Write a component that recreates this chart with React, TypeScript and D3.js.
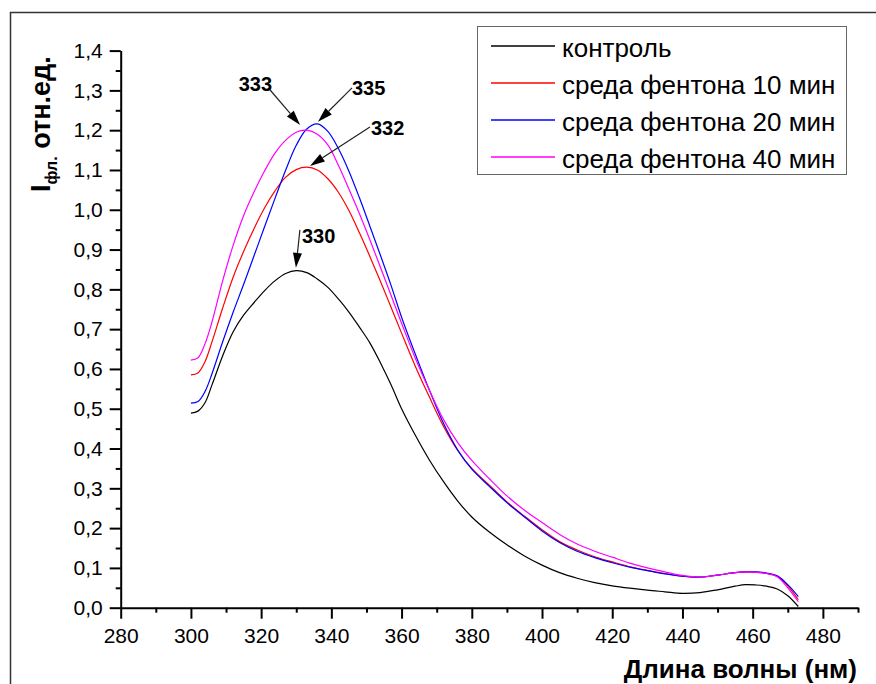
import { useEffect, useRef } from 'react';
import * as d3 from 'd3';

// wavelength grid (nm)
const wavelengths = [300, 302, 304, 306, 309, 312, 315, 318, 321, 324, 327, 330, 333, 336, 339, 342, 345, 348, 351, 354, 357, 360, 364, 368, 372, 376, 380, 385, 390, 395, 400, 405, 410, 415, 420, 425, 430, 435, 440, 445, 450, 455, 458, 461, 464, 467, 470, 473];

const control = [0.489, 0.494, 0.515, 0.56, 0.632, 0.693, 0.735, 0.767, 0.797, 0.822, 0.84, 0.847, 0.842, 0.826, 0.805, 0.776, 0.743, 0.705, 0.665, 0.615, 0.56, 0.5, 0.432, 0.37, 0.316, 0.268, 0.228, 0.19, 0.158, 0.13, 0.107, 0.088, 0.074, 0.063, 0.055, 0.049, 0.044, 0.04, 0.036, 0.038, 0.045, 0.054, 0.058, 0.057, 0.054, 0.047, 0.03, 0.003];
const fenton10 = [0.585, 0.59, 0.618, 0.668, 0.752, 0.83, 0.895, 0.953, 1.005, 1.048, 1.082, 1.101, 1.107, 1.1, 1.078, 1.044, 0.998, 0.942, 0.882, 0.82, 0.755, 0.69, 0.605, 0.528, 0.455, 0.395, 0.35, 0.308, 0.266, 0.23, 0.196, 0.166, 0.145, 0.128, 0.115, 0.103, 0.094, 0.086, 0.079, 0.077, 0.082, 0.088, 0.09, 0.089, 0.086, 0.079, 0.055, 0.02];
const fenton20 = [0.514, 0.518, 0.543, 0.588, 0.667, 0.742, 0.812, 0.885, 0.958, 1.03, 1.1, 1.162, 1.203, 1.216, 1.197, 1.154, 1.097, 1.03, 0.958, 0.885, 0.81, 0.73, 0.635, 0.545, 0.462, 0.396, 0.348, 0.305, 0.264, 0.228, 0.193, 0.164, 0.142, 0.126, 0.113, 0.102, 0.093, 0.085, 0.079, 0.077, 0.082, 0.088, 0.09, 0.09, 0.087, 0.08, 0.058, 0.028];
const fenton40 = [0.622, 0.628, 0.663, 0.718, 0.82, 0.91, 0.985, 1.045, 1.098, 1.143, 1.175, 1.195, 1.2, 1.19, 1.163, 1.112, 1.052, 0.99, 0.924, 0.855, 0.785, 0.715, 0.625, 0.545, 0.472, 0.415, 0.37, 0.324, 0.281, 0.245, 0.214, 0.184, 0.16, 0.142, 0.127, 0.112, 0.1, 0.09, 0.081, 0.077, 0.082, 0.088, 0.09, 0.089, 0.086, 0.078, 0.05, 0.015];

const seriesNames = ['контроль', 'среда фентона 10 мин', 'среда фентона 20 мин', 'среда фентона 40 мин'];
const seriesValues = [control, fenton10, fenton20, fenton40];
const seriesColors = ['#000000', '#ff0000', '#0000ff', '#ff00ff'];

const xTicks = [280, 300, 320, 340, 360, 380, 400, 420, 440, 460, 480];
const yTicks = [0, 0.1, 0.2, 0.3, 0.4, 0.5, 0.6, 0.7, 0.8, 0.9, 1.0, 1.1, 1.2, 1.3, 1.4];

// peak annotations: label, tip position in data units
const peakLabels = ['333', '335', '332', '330'];
const peakTipX = [331.1, 336.2, 333.9, 329.9];
const peakTipY = [1.213, 1.221, 1.11, 0.854];

const FONT = '"Liberation Sans", Arial, sans-serif';

export default function App() {
  const svgRef = useRef(null);

  useEffect(() => {
    const svg = d3.select(svgRef.current);
    svg.selectAll('*').remove();

    const W = 876, H = 684;
    const margin = { top: 50.6, right: 18, bottom: 76.3, left: 120.7 };

    const x = d3.scaleLinear().domain([280, 490]).range([margin.left, W - margin.right]);
    const y = d3.scaleLinear().domain([0, 1.4]).range([H - margin.bottom, margin.top]);

    // outer frame
    svg.append('rect')
      .attr('x', 10.5).attr('y', 12.5)
      .attr('width', W).attr('height', H)
      .attr('fill', 'none')
      .attr('stroke', '#333')
      .attr('stroke-width', 1.5);

    const fmt = d => d.toFixed(1).replace('.', ',');

    // minor ticks
    svg.append('g')
      .attr('transform', `translate(0,${y(0)})`)
      .call(d3.axisBottom(x).tickValues(d3.range(290, 491, 20)).tickSize(5).tickFormat(() => ''))
      .call(g => g.select('.domain').remove())
      .call(g => g.selectAll('line').attr('stroke-width', 2));
    svg.append('g')
      .attr('transform', `translate(${x(280)},0)`)
      .call(d3.axisLeft(y).tickValues(d3.range(0.05, 1.4, 0.1)).tickSize(5).tickFormat(() => ''))
      .call(g => g.select('.domain').remove())
      .call(g => g.selectAll('line').attr('stroke-width', 2));

    // major axes
    const xAxis = svg.append('g')
      .attr('transform', `translate(0,${y(0)})`)
      .call(d3.axisBottom(x).tickValues(xTicks).tickSize(11).tickSizeOuter(0).tickPadding(9));
    const yAxis = svg.append('g')
      .attr('transform', `translate(${x(280)},0)`)
      .call(d3.axisLeft(y).tickValues(yTicks).tickSize(11).tickSizeOuter(0).tickPadding(7).tickFormat(fmt));

    [xAxis, yAxis].forEach(a => {
      a.select('.domain').attr('stroke-width', 2);
      a.selectAll('line').attr('stroke-width', 2);
      a.selectAll('text')
        .style('font-family', FONT)
        .style('font-size', '21px')
        .attr('fill', '#000');
    });

    // curves
    const line = d3.line()
      .x((d, i) => x(wavelengths[i]))
      .y(d => y(d))
      .curve(d3.curveCatmullRom.alpha(0.5));

    seriesValues.forEach((vals, i) => {
      svg.append('path')
        .datum(vals)
        .attr('d', line)
        .attr('fill', 'none')
        .attr('stroke', seriesColors[i])
        .attr('stroke-width', 1.2);
    });

    // peak arrows
    const startOff = [[-30, -35], [34, -34], [60, -39], [4, -38]];
    const textOff = [[2, 1, 'end'], [0, 7, 'start'], [1, 8, 'start'], [2, 13, 'start']];
    peakLabels.forEach((lab, i) => {
      const tx = x(peakTipX[i]), ty = y(peakTipY[i]);
      const sx = tx + startOff[i][0], sy = ty + startOff[i][1];
      const ang = Math.atan2(ty - sy, tx - sx);
      const len = 15, hw = 4.5;
      const bx = tx - len * Math.cos(ang), by = ty - len * Math.sin(ang);
      svg.append('line')
        .attr('x1', sx).attr('y1', sy).attr('x2', bx).attr('y2', by)
        .attr('stroke', '#222').attr('stroke-width', 1.2);
      svg.append('path')
        .attr('d', `M${tx},${ty}L${bx + hw * Math.sin(ang)},${by - hw * Math.cos(ang)}L${bx - hw * Math.sin(ang)},${by + hw * Math.cos(ang)}Z`)
        .attr('fill', '#000');
      svg.append('text')
        .attr('x', sx + textOff[i][0])
        .attr('y', sy + textOff[i][1])
        .attr('text-anchor', textOff[i][2])
        .style('font-family', FONT)
        .style('font-size', '20px')
        .style('font-weight', 'bold')
        .text(lab);
    });

    // legend
    const legend = svg.append('g');
    legend.append('rect')
      .attr('x', 477.5).attr('y', 26.5)
      .attr('width', 369).attr('height', 148)
      .attr('fill', '#fff')
      .attr('stroke', '#666')
      .attr('stroke-width', 1);
    seriesNames.forEach((name, i) => {
      const cy = 46 + i * 37;
      legend.append('line')
        .attr('x1', 491).attr('x2', 555)
        .attr('y1', cy).attr('y2', cy)
        .attr('stroke', seriesColors[i])
        .attr('stroke-width', 1.5);
      legend.append('text')
        .attr('x', 562)
        .attr('y', cy + 11)
        .style('font-family', FONT)
        .style('font-size', '26px')
        .text(name);
    });

    // axis titles
    svg.append('text')
      .attr('x', 857)
      .attr('y', 678)
      .attr('text-anchor', 'end')
      .style('font-family', FONT)
      .style('font-size', '26px')
      .style('font-weight', 'bold')
      .text('Длина волны (нм)');

    const yTitle = svg.append('text')
      .attr('transform', 'translate(50,192) rotate(-90)')
      .style('font-family', FONT)
      .style('font-size', '27px')
      .style('font-weight', 'bold');
    yTitle.append('tspan').text('I');
    yTitle.append('tspan').attr('dy', 7).style('font-size', '16px').text('фл.');
    yTitle.append('tspan').attr('dy', -7).text(' отн.ед.');
  }, []);

  return (
    <svg
      ref={svgRef}
      width={876}
      height={684}
      style={{ position: 'absolute', left: 0, top: 0, background: '#fff' }}
    />
  );
}
